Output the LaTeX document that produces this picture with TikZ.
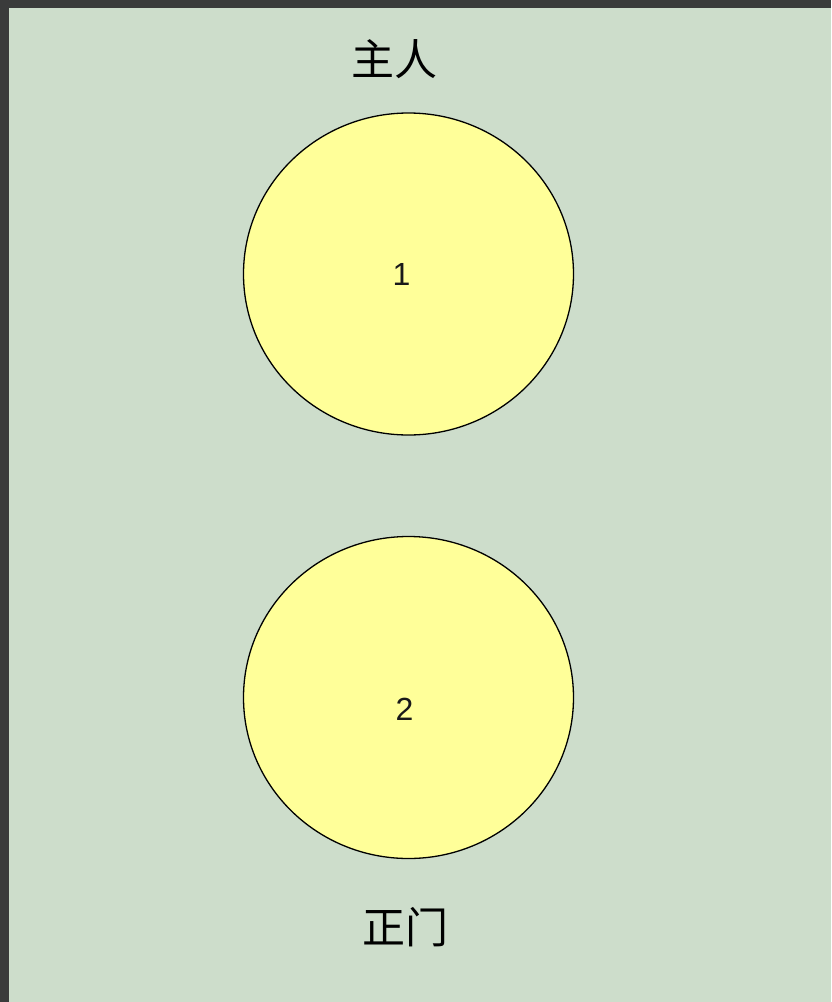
\documentclass[tikz,border=0pt]{standalone}
\usepackage{fontspec}
\setmainfont{Liberation Sans}
\newfontfamily\cjk{Noto Sans CJK SC}
\usetikzlibrary{shapes.geometric}
\definecolor{frame}{HTML}{3A3B3B}
\definecolor{panel}{HTML}{CDDDCB}
\definecolor{seatfill}{HTML}{FFFF99}
\tikzset{
  seat/.style={ellipse,draw=black,fill=seatfill,line width=1.3pt,
    minimum width=330pt,minimum height=322pt,inner sep=0pt},
  seatno/.style={font=\fontsize{32}{36}\selectfont,text=black!90},
  place/.style={font=\cjk\fontsize{43}{50}\selectfont,inner sep=0pt}
}

\begin{document}
\begin{tikzpicture}[x=1pt,y=-1pt]
\fill[frame] (0,0) rectangle (831,1002);
\fill[panel] (9,8) rectangle (831,1002);
\node[seat,label={[seatno,xshift=-7pt]center:1}] (host) at (408.5,274) {};
\node[seat,label={[seatno,xshift=-4pt,yshift=-12pt]center:2}] (door) at (408.5,697.5) {};
\node[place] (hostname) at (394,59) {主人};
\node[place] (doorname) at (405,927) {正门};
\end{tikzpicture}
\end{document}
